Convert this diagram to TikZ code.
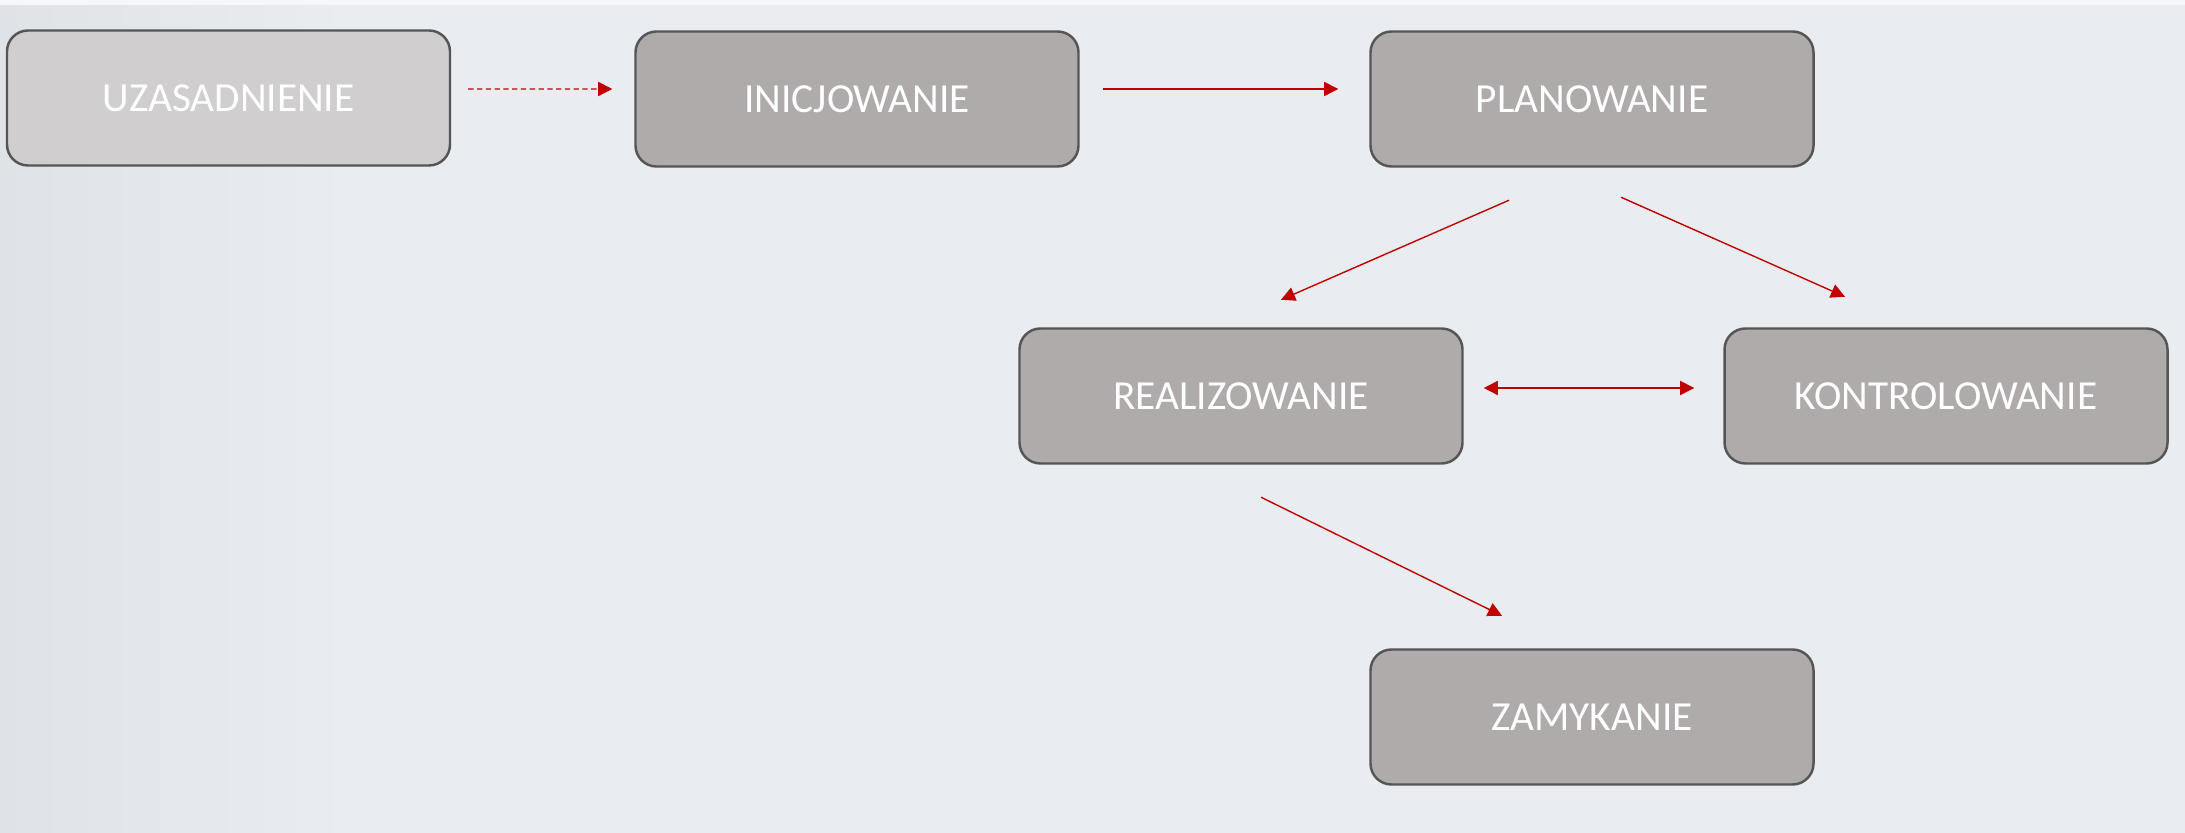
\documentclass[tikz,border=0pt]{standalone}
\usepackage{fontspec}
\setmainfont{Carlito}
\usetikzlibrary{positioning,calc,arrows.meta}
\definecolor{bgcol}{HTML}{E9ECF1}
\definecolor{bgleft}{HTML}{DFE2E7}
\definecolor{boxcol}{HTML}{AFABAB}
\definecolor{boxlight}{HTML}{D0CECE}
\definecolor{edgecol}{HTML}{555555}
\definecolor{arrowred}{HTML}{C00000}
\tikzset{phase/.style={draw=edgecol,line width=1.4pt,fill=boxcol,rounded corners=0.42cm,
    minimum width=8.86cm,minimum height=2.70cm,text=white,font=\fontsize{23.5}{28}\selectfont}}
\tikzset{link/.style={color=arrowred,line width=0.8pt,-{Triangle[length=8pt,width=8pt]}}}

\begin{document}
\begin{tikzpicture}
    \fill[bgcol] (0,0) rectangle (43.7,16.66);
    \shade[left color=bgleft,right color=bgcol] (0,0) rectangle (7,16.66);
    \fill[white!60!bgcol] (0,16.56) rectangle (43.7,16.66);
    \useasboundingbox (0,0) rectangle (43.7,16.66);
    \node[phase,fill=boxlight] (uzas) at (4.57,14.70) {UZASADNIENIE};
    \node[phase] (inic) at (17.14,14.68) {INICJOWANIE};
    \node[phase] (plan) at (31.84,14.68) {PLANOWANIE};
    \node[phase] (real) at (24.82,8.74) {REALIZOWANIE};
    \node[phase] (kont) at (38.92,8.74) {KONTROLOWANIE};
    \node[phase] (zam) at (31.84,2.32) {ZAMYKANIE};
    % arrow ends
    \coordinate (u1) at ($(uzas.east)+(0.34,0.18)$);
    \coordinate (i0) at ($(inic.west)+(-0.44,0.20)$);
    \coordinate (i1) at ($(inic.east)+(0.46,0.20)$);
    \coordinate (p0) at ($(plan.west)+(-0.62,0.20)$);
    \coordinate (pa) at ($(plan.south)+(-1.66,-0.65)$);
    \coordinate (pb) at ($(plan.south)+(0.58,-0.59)$);
    \coordinate (ra) at ($(real.north)+(0.80,0.55)$);
    \coordinate (kb) at ($(kont.north)+(-2.02,0.61)$);
    \coordinate (r1) at ($(real.east)+(0.40,0.16)$);
    \coordinate (k1) at ($(kont.west)+(-0.58,0.16)$);
    \coordinate (r2) at ($(real.south)+(0.40,-0.65)$);
    \coordinate (z2) at ($(zam.north)+(-1.80,0.65)$);
    \draw[link,densely dashed] (u1) -- (i0);
    \draw[link] (i1) -- (p0);
    \draw[link] (pa) -- (ra);
    \draw[link] (pb) -- (kb);
    \draw[link,{Triangle[length=8pt,width=8pt]}-{Triangle[length=8pt,width=8pt]}] (r1) -- (k1);
    \draw[link] (r2) -- (z2);
\end{tikzpicture}
\end{document}
